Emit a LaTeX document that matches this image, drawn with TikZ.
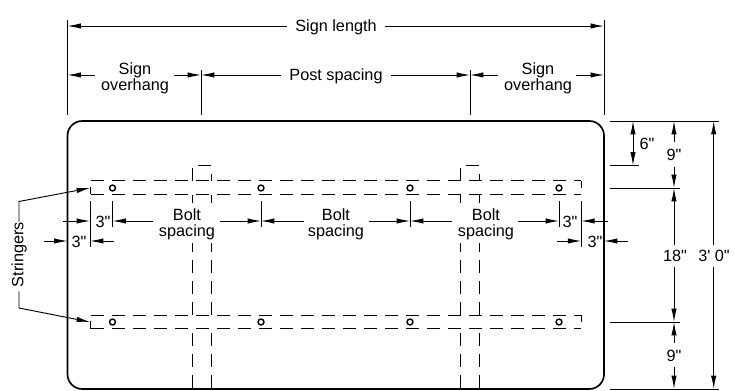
\documentclass[tikz,border=0pt]{standalone}
\usepackage{fontspec}
\newfontfamily\labelfont{Liberation Sans}
\usetikzlibrary{arrows.meta}
\newcommand{\inchmark}{\char34 }
\newcommand{\footmark}{\char39 }
\tikzset{
  dimline/.style={line width=0.7pt,black},
  dimto/.style={dimline,-{Latex[length=10pt,width=4pt]}},
  dimboth/.style={dimline,{Latex[length=10pt,width=4pt]}-{Latex[length=10pt,width=4pt]}},
  extline/.style={line width=0.7pt,black},
  hidden/.style={line width=0.75pt,black,dash pattern=on 9.75pt off 6pt},
  label/.style={inner sep=0pt,font=\labelfont\fontsize{12.2}{12.2}\selectfont,align=center},
  bolt/.style={circle,draw=black,line width=1.1pt,minimum size=4.4pt,inner sep=0pt},
}
\begin{document}
\begin{tikzpicture}[x=0.75pt,y=-0.75pt]
\useasboundingbox (0,0) rectangle (735,391);
% sign outline
\draw[line width=1.25pt,rounded corners=11pt] (67.5,121) rectangle (604,389);
% stringers
\foreach \t/\b in {181/194.5,315.5/329}{
  \draw[hidden] (91,\t) -- (581,\t);
  \draw[hidden] (91,\b) -- (581,\b);
  \draw[extline] (90,\t+6) -- (90,\b);
  \draw[extline] (581,\t) -- (581,\t+7);
}
% posts
\foreach \a/\b in {192.5/211,460.5/479}{
  \draw[extline] (\a+5.5,165.3) -- (\b,165.3);
  \draw[extline] (\a,168) -- (\a,181);
  \draw[extline] (\b,174) -- (\b,181);
  \draw[extline] (\a,195) -- (\a,203);
  \draw[extline] (\b,195) -- (\b,203);
  \draw[extline] (\a,243) -- (\a,252);
  \draw[extline] (\b,243) -- (\b,252);
  \draw[hidden] (\a,260) -- (\a,315.5);
  \draw[hidden] (\b,260) -- (\b,315.5);
  \draw[hidden] (\a,333) -- (\a,389);
  \draw[hidden] (\b,333) -- (\b,389);
}
% bolts
\foreach \x [count=\i] in {112.5,261,410,559}{
  \node[bolt] (ta\i) at (\x,188) {};
  \node[bolt] (bo\i) at (\x,322) {};
}
% top extension lines
\foreach \x/\t in {67.5/20,604/20,201/70,470/70}{
  \draw[extline] (\x,\t) -- (\x,115);
}
% sign length
\node[label] (signlength) at (336,27) {Sign length};
\draw[dimto] (287,26) -- (67.5,26);
\draw[dimto] (385,26) -- (604,26);
% overhang row
\node[label] (oh1) at (135,78) {Sign\\overhang};
\node[label] (postsp) at (336,76) {Post spacing};
\node[label] (oh2) at (538,78) {Sign\\overhang};
\draw[dimto] (95,75) -- (67.5,75);
\draw[dimto] (174,75) -- (201,75);
\draw[dimto] (281,75) -- (201,75);
\draw[dimto] (391,75) -- (470,75);
\draw[dimto] (498,75) -- (470,75);
\draw[dimto] (576,75) -- (604,75);
% extension lines under stringers
\foreach \x/\e in {90/246.7,112.5/227.5,261/227.5,410/227.5,559/227.5,581.3/246.7}{
  \draw[extline] (\x,200.7) -- (\x,\e);
}
% bolt spacing row
\node[label] (bs1) at (187,224) {Bolt\\spacing};
\node[label] (bs2) at (336,224) {Bolt\\spacing};
\node[label] (bs3) at (486,224) {Bolt\\spacing};
\draw[dimto] (153,221) -- (112.5,221);
\draw[dimto] (220,221) -- (261,221);
\draw[dimto] (304,221) -- (261,221);
\draw[dimto] (369,221) -- (410,221);
\draw[dimto] (452,221) -- (410,221);
\draw[dimto] (518,221) -- (559,221);
% 3 inch dims
\node[label] (i1) at (103,221.5) {3\inchmark};
\node[label] (i2) at (79,242) {3\inchmark};
\node[label] (i3) at (570,221.5) {3\inchmark};
\node[label] (i4) at (595,242) {3\inchmark};
\draw[dimto] (63,221) -- (90,221);
\draw[dimto] (44,241) -- (67.5,241);
\draw[dimto] (114,241) -- (90,241);
\draw[dimto] (608,221) -- (581.3,221);
\draw[dimto] (557,241) -- (581.3,241);
\draw[dimto] (628,241) -- (604,241);
% right extension lines
\draw[extline] (610,121) -- (719,121);
\draw[extline] (610,165.5) -- (639,165.5);
\draw[extline] (610,188) -- (680,188);
\draw[extline] (610,322) -- (680,322);
\draw[extline] (610,389) -- (719,389);
% right dims
\node[label] (six) at (647,143.5) {6\inchmark};
\node[label] (n1) at (674,154.5) {9\inchmark};
\node[label] (e18) at (675,256) {18\inchmark};
\node[label] (n2) at (674,356) {9\inchmark};
\node[label] (len) at (714,256) {3\footmark\ 0\inchmark};
\draw[dimboth] (633,121) -- (633,165.5);
\draw[dimto] (674,142) -- (674,121);
\draw[dimto] (674,167) -- (674,188);
\draw[dimto] (674,245) -- (674,188);
\draw[dimto] (674,267) -- (674,322);
\draw[dimto] (674,343) -- (674,322);
\draw[dimto] (674,367) -- (674,389);
\draw[dimto] (713.7,245) -- (713.7,121);
\draw[dimto] (713.7,267) -- (713.7,389);
% stringers callout
\node[label,rotate=90,anchor=base] (stringers) at (23.5,254.5) {Stringers};
\coordinate (kt) at (19,201.5);
\coordinate (kb) at (19,308);
\coordinate (tt) at (90,188);
\coordinate (tb) at (90,322);
\draw[dimto] (kt |- stringers.east) -- (kt) -- (tt);
\draw[dimto] (kb |- stringers.west) ++(0,4) -- (kb) -- (tb);
\end{tikzpicture}
\end{document}
